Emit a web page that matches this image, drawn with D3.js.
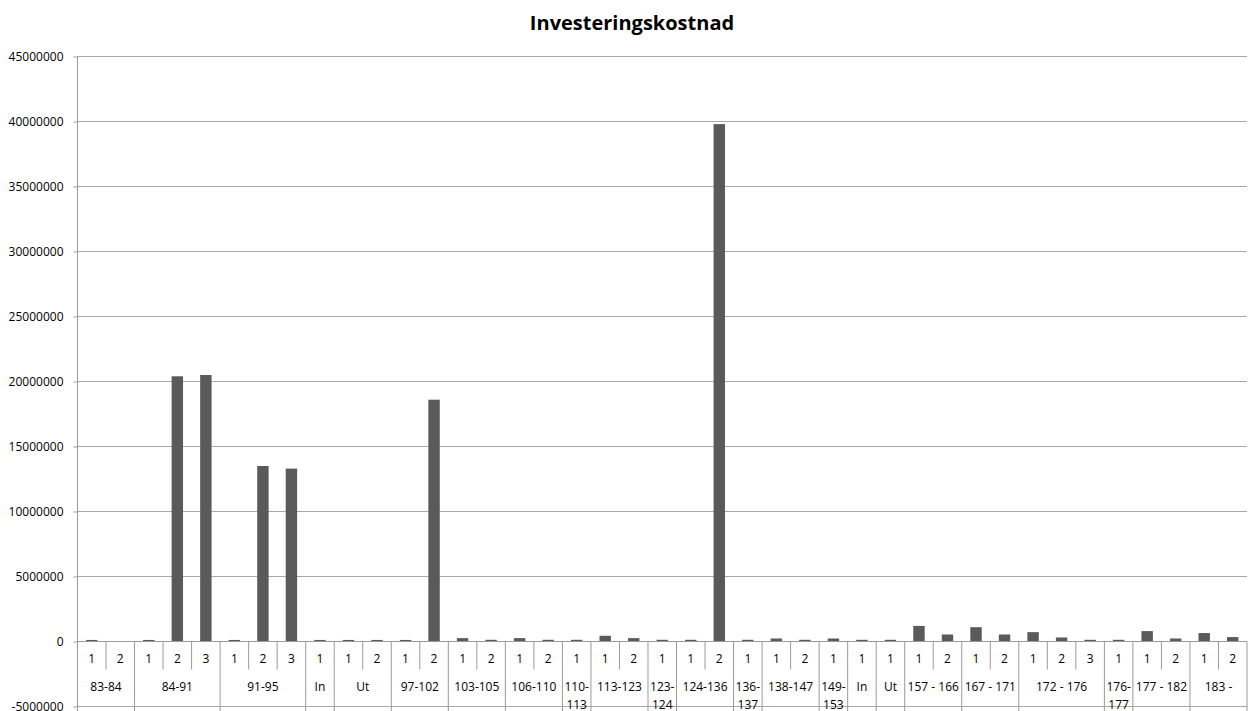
<!DOCTYPE html>
<html>
<head>
<meta charset="utf-8">
<script src="https://cdn.jsdelivr.net/npm/d3@7"></script>
<style>
  html, body { margin: 0; padding: 0; background: #ffffff; }
  svg { display: block; }
  text { font-family: "Open Sans", "Liberation Sans", sans-serif; fill: #000; }
</style>
</head>
<body>
<svg id="chart" width="1253" height="711"></svg>
<script>
// Section labels (outer level of the category axis)
const groupLabels = [
  "83-84", "84-91", "91-95", "In", "Ut", "97-102", "103-105", "106-110",
  "110-113", "113-123", "123-124", "124-136", "136-137", "138-147",
  "149-153", "In", "Ut", "157 - 166", "167 - 171", "172 - 176",
  "176-177", "177 - 182", "183 -"
];

// Alternative labels inside each section (inner level)
const subLabels = [
  ["1", "2"], ["1", "2", "3"], ["1", "2", "3"], ["1"], ["1", "2"],
  ["1", "2"], ["1", "2"], ["1", "2"], ["1"], ["1", "2"], ["1"],
  ["1", "2"], ["1"], ["1", "2"], ["1"], ["1"], ["1"], ["1", "2"],
  ["1", "2"], ["1", "2", "3"], ["1"], ["1", "2"], ["1", "2"]
];

// Investment cost per alternative, in order along the axis
const costs = [
  120000, 0,
  120000, 20400000, 20500000,
  120000, 13500000, 13300000,
  120000,
  120000, 120000,
  120000, 18600000,
  260000, 130000,
  260000, 130000,
  130000,
  440000, 260000,
  130000,
  130000, 39800000,
  130000,
  230000, 130000,
  230000,
  130000,
  130000,
  1200000, 540000,
  1100000, 540000,
  720000, 310000, 130000,
  130000,
  800000, 230000,
  650000, 340000
];

// Value axis ticks
const yTicks = [-5000000, 0, 5000000, 10000000, 15000000, 20000000,
                25000000, 30000000, 35000000, 40000000, 45000000];

const title = "Investeringskostnad";

// Flatten to one entry per bar
const leaves = [];
groupLabels.forEach((g, gi) => {
  subLabels[gi].forEach((s, si) => {
    leaves.push({ key: gi + "-" + si, group: gi, sub: s, value: costs[leaves.length] });
  });
});

const svg = d3.select("#chart");
const left = 77.5, right = 1247;
const gridColor = "#a8a8a8";
const axisColor = "#9a9a9a";

const x = d3.scaleBand()
  .domain(leaves.map(d => d.key))
  .range([left, right])
  .paddingInner(0.6)
  .paddingOuter(0.3);
const step = x.step();

const y = d3.scaleLinear()
  .domain([-5000000, 45000000])
  .range([706.5, 56.5]);

// Title
svg.append("text")
  .attr("x", 632)
  .attr("y", 30)
  .attr("text-anchor", "middle")
  .style("font-size", "20px")
  .style("font-weight", "bold")
  .text(title);

// Horizontal gridlines
svg.append("g")
  .selectAll("line")
  .data(yTicks)
  .join("line")
  .attr("x1", left)
  .attr("x2", right)
  .attr("y1", d => y(d))
  .attr("y2", d => y(d))
  .attr("stroke", gridColor)
  .attr("stroke-width", 1);

// Value axis with outward ticks
const yAxis = d3.axisLeft(y)
  .tickValues(yTicks)
  .tickSize(4)
  .tickPadding(10)
  .tickFormat(d => String(d));
const yg = svg.append("g")
  .attr("transform", `translate(${left},0)`)
  .call(yAxis);
yg.select(".domain").remove();
yg.selectAll(".tick line").attr("stroke", axisColor);
yg.selectAll(".tick text")
  .style("font-size", "12px")
  .style("font-family", "'Open Sans', 'Liberation Sans', sans-serif")
  .attr("fill", "#000");

// Vertical axis line
svg.append("line")
  .attr("x1", left).attr("x2", left)
  .attr("y1", y(45000000)).attr("y2", 720)
  .attr("stroke", axisColor);

// Bars
svg.append("g")
  .selectAll("rect")
  .data(leaves)
  .join("rect")
  .attr("x", d => x(d.key))
  .attr("width", x.bandwidth())
  .attr("y", d => y(Math.max(0, d.value)))
  .attr("height", d => Math.abs(y(d.value) - y(0)))
  .attr("fill", "#5a5a5a");

// Category axis line at zero
const y0 = y(0);
svg.append("line")
  .attr("x1", left).attr("x2", right)
  .attr("y1", y0).attr("y2", y0)
  .attr("stroke", axisColor);

// Multi-level category labels
const catG = svg.append("g");
let idx = 0;
groupLabels.forEach((g, gi) => {
  const n = subLabels[gi].length;
  const gx0 = left + idx * step;
  const gx1 = gx0 + n * step;

  // Short dividers between alternatives inside a section
  for (let k = 1; k < n; k++) {
    const sx = gx0 + k * step;
    catG.append("line")
      .attr("x1", sx).attr("x2", sx)
      .attr("y1", y0).attr("y2", y0 + 28)
      .attr("stroke", axisColor);
  }
  // Full-height divider at the end of each section
  catG.append("line")
    .attr("x1", gx1).attr("x2", gx1)
    .attr("y1", y0).attr("y2", 720)
    .attr("stroke", axisColor);

  // Inner labels
  subLabels[gi].forEach((s, k) => {
    catG.append("text")
      .attr("x", gx0 + (k + 0.5) * step)
      .attr("y", y0 + 17.5)
      .attr("dy", "0.35em")
      .attr("text-anchor", "middle")
      .style("font-size", "12px")
      .text(s);
  });

  // Outer label, wrapped after the hyphen when the section is too narrow
  const cx = (gx0 + gx1) / 2;
  const t = catG.append("text")
    .attr("x", cx)
    .attr("y", y0 + 45)
    .attr("dy", "0.35em")
    .attr("text-anchor", "middle")
    .style("font-size", "12px")
    .text(g);
  if (t.node().getComputedTextLength() > n * step - 3 && g.indexOf("-") > 0) {
    const cut = g.indexOf("-") + 1;
    t.text(g.slice(0, cut));
    catG.append("text")
      .attr("x", cx)
      .attr("y", y0 + 63)
      .attr("dy", "0.35em")
      .attr("text-anchor", "middle")
      .style("font-size", "12px")
      .text(g.slice(cut).trim());
  }
  idx += n;
});
</script>
</body>
</html>
